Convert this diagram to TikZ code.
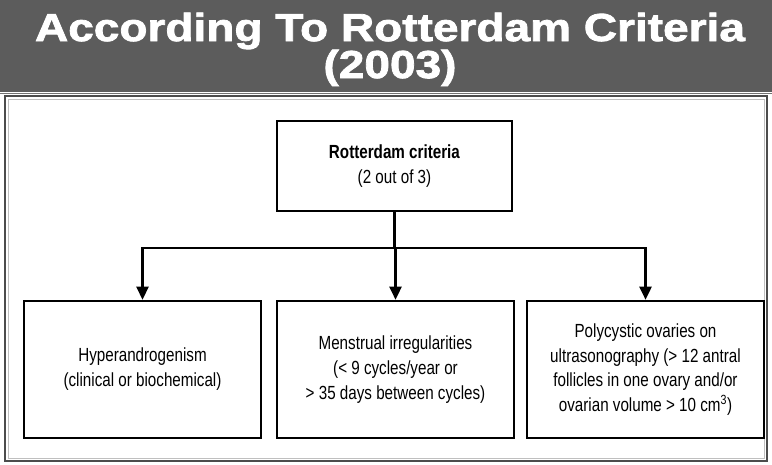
\documentclass[tikz,border=0pt]{standalone}
\usepackage{fontspec}
\setmainfont{Liberation Sans}
\newfontfamily\narrowfont[FakeStretch=0.8]{Liberation Sans}
\newfontfamily\titlefont[FakeStretch=1.18,FakeBold=2]{Liberation Sans Bold}
\usetikzlibrary{arrows.meta}
\begin{document}
\begin{tikzpicture}[x=1pt,y=-1pt,
  crit/.style={draw=black, line width=2.6pt, fill=white, inner sep=0pt, align=center, font=\narrowfont\fontsize{19}{25}\selectfont},
  conn/.style={line width=2.6pt, draw=black},
  arr/.style={conn, -{Triangle[length=13pt,width=12pt]}},
  ttl/.style={text=white, anchor=base, inner sep=0pt, font=\titlefont\fontsize{39}{37}\selectfont}]
\useasboundingbox (0,0) rectangle (772,464);
\fill[white] (0,0) rectangle (772,464);
\fill[black!64] (0,0) rectangle (772,92);
\draw[black!55, line width=1pt] (0,93.5) -- (772,93.5);
\draw[black!70, line width=1.5pt] (5,96) rectangle (767,461);
\draw[black!25, line width=1pt] (8,99) rectangle (764,458);
\node[ttl] (title1) at (390,41) {According To Rotterdam Criteria};
\node[ttl] (title2) at (390,78) {(2003)};
\node[crit, minimum width=235pt, minimum height=90pt] (top) at (394.5,166) {\textbf{Rotterdam criteria}\\(2 out of 3)};
\node[crit, minimum width=237pt, minimum height=137pt] (left) at (142.5,369.5) {Hyperandrogenism\\(clinical or biochemical)};
\node[crit, minimum width=237pt, minimum height=137pt] (mid) at (395.5,369.5) {Menstrual irregularities\\(< 9 cycles/year or\\> 35 days between cycles)};
\node[crit, minimum width=237pt, minimum height=137pt, font=\narrowfont\fontsize{19}{24.5}\selectfont] (right) at (645.5,369.5) {Polycystic ovaries on\\ultrasonography (> 12 antral\\follicles in one ovary and/or\\ovarian volume > 10 cm\textsuperscript{3})};
\coordinate (hub) at (top.south |- 0,248);
\draw[conn] (top.south) -- (hub);
\draw[arr] (hub) -| (left.north);
\draw[arr] (hub) -- (hub -| mid.north) -- (mid.north);
\draw[arr] (hub) -| (right.north);
\end{tikzpicture}
\end{document}
